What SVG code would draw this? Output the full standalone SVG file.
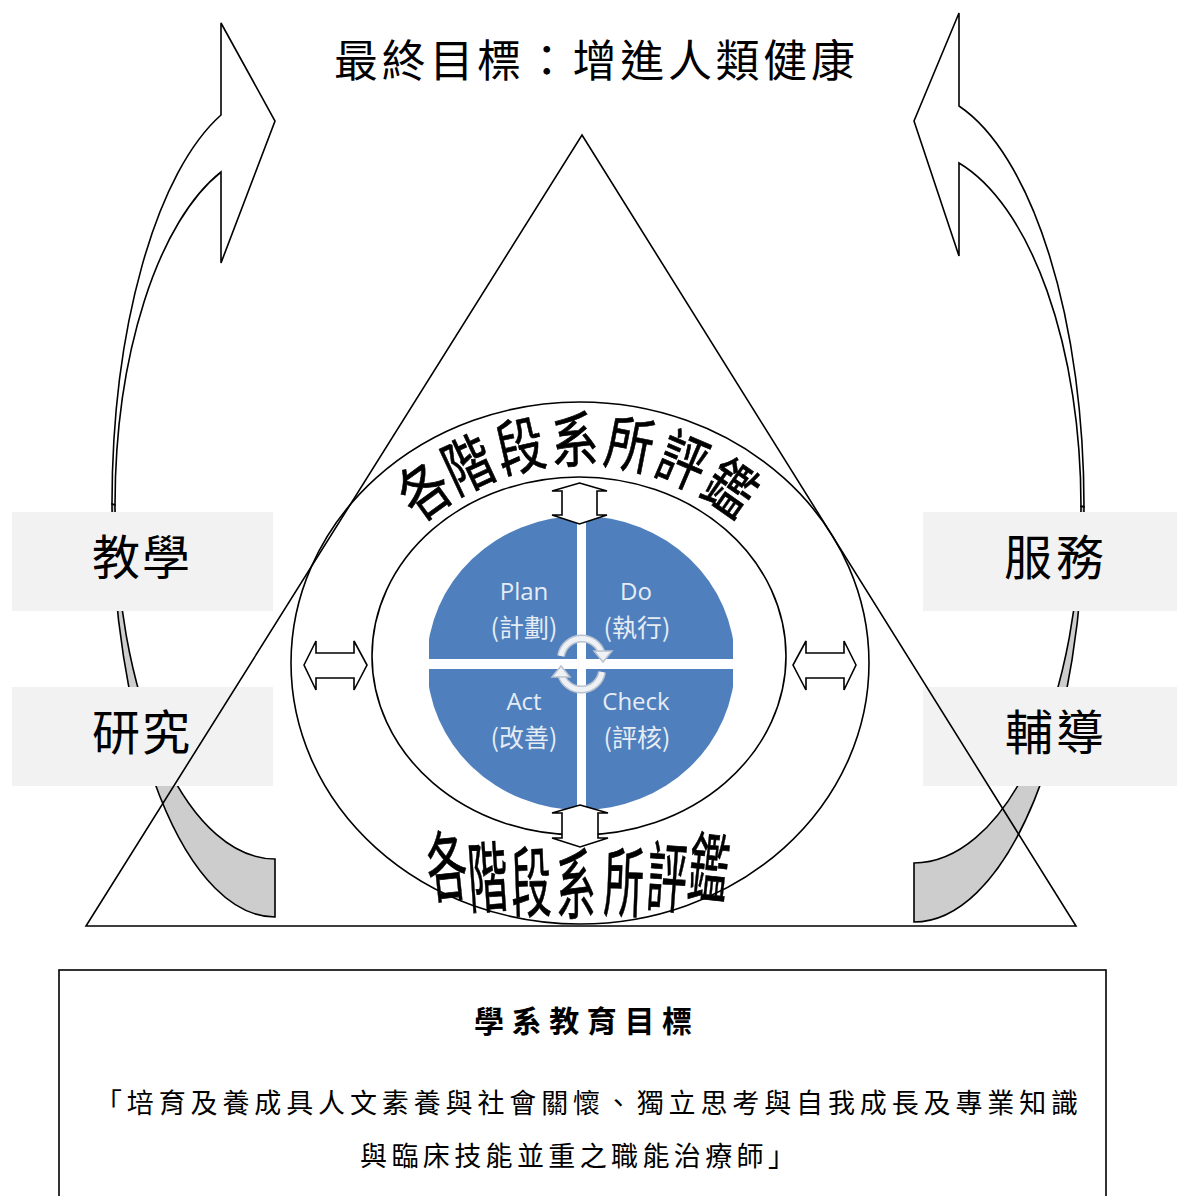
<svg xmlns="http://www.w3.org/2000/svg" width="1177" height="1196" viewBox="0 0 1177 1196">
<style>
.ln{fill:none;stroke:#000;stroke-width:1.6}
.wf{fill:#fff;stroke:#000;stroke-width:1.6;stroke-linejoin:miter}
.gf{fill:#cdcdcd;stroke:#000;stroke-width:1.6}
.box{fill:#f2f2f2}
.cjk{font-family:"Noto Sans CJK TC","Noto Sans CJK SC",sans-serif;fill:#000}
.lab{font-size:48px}
.arcT{font-family:"Noto Sans CJK TC","Noto Sans CJK SC",sans-serif;font-size:61px;font-weight:400;text-anchor:middle;fill:#000;stroke:#000;stroke-width:0.7}
.arcB{font-family:"Noto Sans CJK TC","Noto Sans CJK SC",sans-serif;font-size:77px;font-weight:400;text-anchor:middle;fill:#000;stroke:#000;stroke-width:0.7}
.pe{font-family:"Open Sans","Noto Sans",sans-serif;font-size:24px;fill:#e6ecf4;text-anchor:middle}
.pc{font-family:"Noto Sans CJK TC","Noto Sans CJK SC",sans-serif;font-size:25px;fill:#e6ecf4;text-anchor:middle}
.cyc{fill:none;stroke:#b9c2ce;stroke-width:8}
.cyi{fill:none;stroke:#eef1f5;stroke-width:5}
</style>
<defs>
<clipPath id="pieClip"><rect x="429" y="500" width="304" height="330"/></clipPath>
</defs>
<rect width="1177" height="1196" fill="#fff"/>

<g id="title">
<text class="cjk" x="334" y="77" font-size="44" textLength="521" lengthAdjust="spacing">最終目標：增進人類健康</text>
</g>

<g id="arrow-left">
<path class="wf" d="M221,115 L221,23 L275,121 L221,263 L221,172 A160,353.9 0 0 0 115,505 L112,504 A163,412.7 0 0 1 221,115 Z"/>
<path class="gf" d="M112,504 A163,412.7 0 0 0 275,917 L275,859 A160,353.9 0 0 1 115,505 Z"/>
</g>
<g id="arrow-right">
<path class="wf" d="M959,106 L959,13 L914,121 L959,256 L959,163 A167,356.6 0 0 1 1081,506.4 L1084,506.7 A170,415.3 0 0 0 959,106 Z"/>
<path class="gf" d="M1084,506.7 A170,415.3 0 0 1 914,922 L914,863 A167,356.6 0 0 0 1081,506.4 Z"/>
</g>

<g id="node-teaching">
<rect class="box" x="12" y="512" width="261" height="99"/>
<text class="cjk lab" x="92" y="575" textLength="98" lengthAdjust="spacing">教學</text>
</g>
<g id="node-research">
<rect class="box" x="12" y="687" width="261" height="99"/>
<text class="cjk lab" x="92" y="750" textLength="98" lengthAdjust="spacing">研究</text>
</g>
<g id="node-service">
<rect class="box" x="923" y="512" width="254" height="99"/>
<text class="cjk lab" x="1004" y="575" textLength="100" lengthAdjust="spacing">服務</text>
</g>
<g id="node-counsel">
<rect class="box" x="923" y="687" width="254" height="99"/>
<text class="cjk lab" x="1005" y="750" textLength="99" lengthAdjust="spacing">輔導</text>
</g>

<g id="triangle">
<path class="ln" d="M582,135 L1076,926 L86,926 Z"/>
</g>

<g id="ring">
<ellipse class="ln" cx="580" cy="663" rx="289" ry="261"/>
<ellipse class="ln" cx="579" cy="656" rx="207" ry="179"/>
</g>

<g id="pdca">
<ellipse cx="581" cy="663" rx="154" ry="147" fill="#4f80bd" clip-path="url(#pieClip)"/>
<rect x="577" y="510" width="9" height="310" fill="#fff"/>
<rect x="424" y="659" width="314" height="10" fill="#fff"/>
<path class="cyc" d="M561,656 A21,21 0 0 1 602,654"/>
<path class="cyi" d="M561,656 A21,21 0 0 1 602,654"/>
<polygon points="594,651 612,651 603,662" fill="#eef1f5" stroke="#b9c2ce" stroke-width="1.5"/>
<path class="cyc" d="M602,672 A21,21 0 0 1 561,674"/>
<path class="cyi" d="M602,672 A21,21 0 0 1 561,674"/>
<polygon points="552,677 570,677 561,666" fill="#eef1f5" stroke="#b9c2ce" stroke-width="1.5"/>
<text class="pe" x="524" y="600">Plan</text>
<text class="pc" x="524" y="637">(計劃)</text>
<text class="pe" x="636" y="600">Do</text>
<text class="pc" x="637" y="637">(執行)</text>
<text class="pe" x="524" y="710">Act</text>
<text class="pc" x="524" y="747">(改善)</text>
<text class="pe" x="636" y="710">Check</text>
<text class="pc" x="637" y="747">(評核)</text>
</g>

<g id="connectors">
<polygon class="wf" points="579.5,483 607,491 597,491 597,515 607,515 579.5,524 552,515 562,515 562,491 552,491"/>
<polygon class="wf" points="580,805 608,813 598,813 598,838 608,838 580,847 552,838 562,838 562,813 552,813"/>
<polygon class="wf" points="304,665 316,641 316,653 354,653 354,641 367,665 354,690 354,678 316,678 316,690"/>
<polygon class="wf" points="856,665 844,641 844,653 806,653 806,641 793,665 806,690 806,678 844,678 844,690"/>
</g>

<g id="arc-top">
<text class="arcT" transform="translate(424,490) rotate(-36) scale(0.78,1)" y="23">各</text>
<text class="arcT" transform="translate(468,464) rotate(-25) scale(0.78,1)" y="23">階</text>
<text class="arcT" transform="translate(520,446) rotate(-13) scale(0.78,1)" y="23">段</text>
<text class="arcT" transform="translate(575,439) rotate(-1) scale(0.78,1)" y="23">系</text>
<text class="arcT" transform="translate(630,444) rotate(11) scale(0.78,1)" y="23">所</text>
<text class="arcT" transform="translate(683,460) rotate(23) scale(0.78,1)" y="23">評</text>
<text class="arcT" transform="translate(731,488) rotate(35) scale(0.78,1)" y="23">鑑</text>
</g>

<g id="arc-bottom">
<text class="arcB" transform="translate(447,866) rotate(-6) scale(0.52,1)" y="29">各</text>
<text class="arcB" transform="translate(488,877) rotate(-4) scale(0.52,1)" y="29">階</text>
<text class="arcB" transform="translate(531,882) rotate(-2) scale(0.52,1)" y="29">段</text>
<text class="arcB" transform="translate(576,884) scale(0.52,1)" y="29">系</text>
<text class="arcB" transform="translate(624,882) rotate(2) scale(0.52,1)" y="29">所</text>
<text class="arcB" transform="translate(667,877) rotate(4) scale(0.52,1)" y="29">評</text>
<text class="arcB" transform="translate(709,868) rotate(6) scale(0.52,1)" y="29">鑑</text>
</g>

<g id="goal-box">
<rect x="59" y="970" width="1047" height="260" fill="none" stroke="#000" stroke-width="1.6"/>
<text class="cjk" x="474" y="1032" font-size="30" font-weight="bold" textLength="218" lengthAdjust="spacing">學系教育目標</text>
<text class="cjk" x="95" y="1113" font-size="27" textLength="983" lengthAdjust="spacing">「培育及養成具人文素養與社會關懷、獨立思考與自我成長及專業知識</text>
<text class="cjk" x="360" y="1166" font-size="27" textLength="435" lengthAdjust="spacing">與臨床技能並重之職能治療師」</text>
</g>
</svg>
